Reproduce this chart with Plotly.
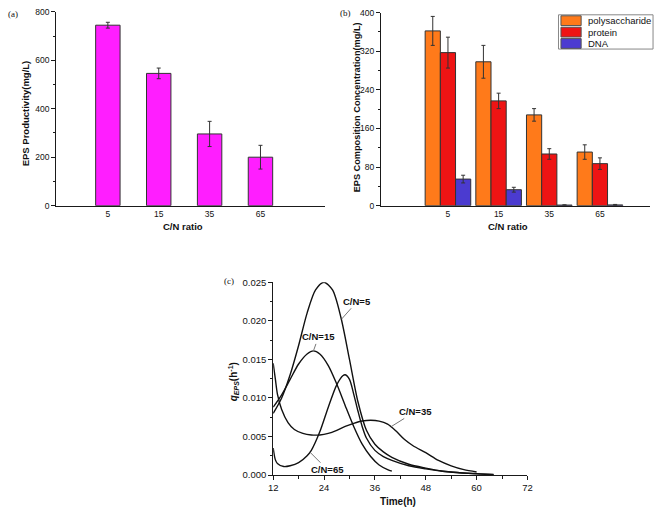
import plotly.graph_objects as go

W, H = 661, 514

# ---------------- data ----------------
cn_labels = ["5", "15", "35", "65"]
cn_pos = [1, 2, 3, 4]

eps_prod = [745, 546, 296, 200]
eps_prod_err = [12, 22, 52, 49]

poly = [362, 298, 188, 111]
poly_err = [30, 34, 13, 15]
protein = [317, 217, 107, 87]
protein_err = [32, 16, 11, 12]
dna = [55, 33, 1.2, 1.5]
dna_err = [8, 5, 0.5, 1]

comp_names = ["polysaccharide", "protein", "DNA"]
comp_colors = ["#FF7A1A", "#EE1414", "#4B3BD0"]

t_cn5 = [12, 14, 16, 18, 20, 22, 24, 26, 28, 30, 32, 34, 36, 38, 40, 44, 48, 52, 56, 60, 64]
q_cn5 = [0.0080, 0.0100, 0.0130, 0.0168, 0.0210, 0.0240, 0.0250, 0.0240, 0.0204, 0.0150,
         0.0095, 0.0058, 0.0040, 0.0030, 0.0023, 0.0014, 0.0009, 0.0005, 0.0003, 0.00015, 0.00005]

t_cn15 = [12, 14, 16, 18, 20, 21.5, 23, 25, 27, 29, 31, 33, 35, 37, 39, 40]
q_cn15 = [0.0088, 0.0104, 0.0124, 0.0144, 0.0157, 0.0161, 0.0157, 0.0142, 0.0118, 0.0090,
          0.0063, 0.0040, 0.0024, 0.0013, 0.0007, 0.0005]

t_cn35 = [12, 12.5, 13, 14, 15.5, 17, 19, 21, 23, 25, 27, 29, 31, 33, 35, 37, 39, 41, 43, 45,
          48, 51, 54, 57, 60]
q_cn35 = [0.0145, 0.0125, 0.0105, 0.0085, 0.0068, 0.0059, 0.0054, 0.0052, 0.0052, 0.0054,
          0.0058, 0.0063, 0.0067, 0.0070, 0.0071, 0.0070, 0.0066, 0.0057, 0.0046, 0.0038,
          0.0029, 0.0019, 0.0012, 0.0007, 0.0004]

t_cn65 = [12, 12.5, 13, 14.5, 16, 18, 20, 21, 23, 25, 27, 28.5, 29, 30, 31, 32, 33, 34, 36,
          38, 40, 44, 48, 52, 56, 60, 64]
q_cn65 = [0.0035, 0.0020, 0.0015, 0.0011, 0.0012, 0.0016, 0.0025, 0.0032, 0.0056, 0.0088,
          0.0117, 0.0129, 0.0130, 0.0124, 0.0105, 0.0083, 0.0063, 0.0048, 0.0032, 0.0024,
          0.0019, 0.0012, 0.0008, 0.0005, 0.0003, 0.00018, 0.00008]

time_ticks = [12, 24, 36, 48, 60, 72]

# ---------------- helpers ----------------
def px_x(p):
    return p / W

def px_y(p):
    return 1 - p / H

FONT = "Liberation Sans, Arial, sans-serif"
SERIF = "Liberation Serif, Times New Roman, serif"
AX = "#1a1a1a"

fig = go.Figure()

# (a) EPS productivity
fig.add_trace(go.Bar(
    x=cn_pos, y=eps_prod, width=0.48,
    marker=dict(color="#FF1EFF", line=dict(color="#333333", width=1)),
    error_y=dict(type="data", array=eps_prod_err, color="#333333", thickness=1, width=2),
    xaxis="x", yaxis="y", showlegend=False,
))

# (b) composition
comp_vals = [poly, protein, dna]
comp_errs = [poly_err, protein_err, dna_err]
offsets = [-0.45, -0.15, 0.15]
for name, col, vals, errs, off in zip(comp_names, comp_colors, comp_vals, comp_errs, offsets):
    fig.add_trace(go.Bar(
        x=cn_pos, y=vals, width=0.3, offset=off, name=name,
        marker=dict(color=col, line=dict(color="#333333", width=1)),
        error_y=dict(type="data", array=errs, color="#333333", thickness=1, width=2),
        xaxis="x2", yaxis="y2", showlegend=False,
    ))

# (c) specific EPS production rate
for t, q in [(t_cn5, q_cn5), (t_cn15, q_cn15), (t_cn35, q_cn35), (t_cn65, q_cn65)]:
    fig.add_trace(go.Scatter(
        x=t, y=q, mode="lines", line=dict(color="#111111", width=1.4, shape="spline", smoothing=0.8),
        xaxis="x3", yaxis="y3", showlegend=False,
    ))

tickfont_ab = dict(family=FONT, size=8.5, color="#111")
tickfont_c = dict(family=FONT, size=9.5, color="#111")

common_y = dict(showline=True, linecolor=AX, linewidth=1, ticks="outside", ticklen=4,
                tickcolor=AX, showgrid=False, zeroline=False)

fig.update_layout(
    width=W, height=H, margin=dict(l=0, r=0, t=0, b=0),
    paper_bgcolor="white", plot_bgcolor="white", barmode="overlay",
    xaxis=dict(domain=[px_x(52), px_x(325)], range=[-0.015, 5.27], anchor="y",
               tickvals=cn_pos, ticktext=cn_labels, ticks="", showline=True, linecolor=AX,
               showgrid=False, zeroline=False, tickfont=tickfont_ab),
    yaxis=dict(domain=[px_y(204), px_y(6)], range=[0, 800], dtick=200, anchor="x",
               minor=dict(dtick=100, ticklen=2, tickcolor=AX, ticks="outside"),
               tickfont=tickfont_ab, **common_y),
    xaxis2=dict(domain=[px_x(381.7), px_x(655)], range=[-0.323, 4.99], anchor="y2",
                tickvals=cn_pos, ticktext=cn_labels, ticks="", showline=True, linecolor=AX,
                showgrid=False, zeroline=False, tickfont=tickfont_ab),
    yaxis2=dict(domain=[px_y(204), px_y(6.7)], range=[0, 400], dtick=80, anchor="x2",
                minor=dict(dtick=40, ticklen=2, tickcolor=AX, ticks="outside"),
                tickfont=tickfont_ab, **common_y),
    xaxis3=dict(domain=[px_x(272.3), px_x(530.5)], range=[12, 72], anchor="y3",
                tickvals=time_ticks, showline=True, linecolor=AX, ticks="outside", ticklen=4,
                tickcolor=AX, showgrid=False, zeroline=False, tickfont=tickfont_c,
                minor=dict(dtick=6, ticklen=3, tickcolor=AX, ticks="outside")),
    yaxis3=dict(domain=[px_y(479.3), px_y(282.3)], range=[0, 0.025], dtick=0.005, anchor="x3",
                tickformat=".3f", minor=dict(dtick=0.0025, ticklen=2, tickcolor=AX, ticks="outside"),
                tickfont=tickfont_c, **common_y),
)

ann = []
def txt(x, y, s, size=9.5, angle=0, family=FONT):
    ann.append(dict(x=px_x(x), y=px_y(y), xref="paper", yref="paper", text=s, showarrow=False,
                    textangle=angle, xanchor="center", yanchor="middle",
                    font=dict(family=family, size=size, color="#111")))

txt(21, 110, "<b>EPS Productivity(mg/L)</b>", angle=-90)
txt(357, 104, "<b>EPS Composition Concentration(mg/L)</b>", size=9.2, angle=-90)
txt(181, 225, "<b>C/N ratio</b>")
txt(511, 225, "<b>C/N ratio</b>")
txt(399, 506, "<b>Time(h)</b>", size=10)
txt(232, 384, "<b><i>q</i><sub><i>EPS</i></sub>(h<sup>-1</sup>)</b>", size=10, angle=-90)
txt(8, 8, "(a)", size=9, family=SERIF)
txt(346, 7, "(b)", size=9, family=SERIF)
txt(227, 281, "(c)", size=9, family=SERIF)

# curve labels with leader lines
curve_labels = [("C/N=5", 28.1, 0.0202, 16, -18),
                ("C/N=15", 21.5, 0.0161, 5, -14),
                ("C/N=35", 39.9, 0.0063, 24, -15),
                ("C/N=65", 20.8, 0.0029, 17, 17)]
for s, x, y, axp, ayp in curve_labels:
    ann.append(dict(x=x, y=y, xref="x3", yref="y3", text="<b>%s</b>" % s, showarrow=True,
                    arrowhead=0, arrowwidth=1, arrowcolor="#777777", ax=axp, ay=ayp,
                    standoff=0, font=dict(family=FONT, size=9.5, color="#111")))

# legend for panel (b)
shapes = [dict(type="rect", xref="paper", yref="paper", x0=px_x(562), x1=px_x(658),
               y0=px_y(44), y1=px_y(9), line=dict(color="#888888", width=1), fillcolor="white")]
rows = [(10, 20), (21.7, 31.7), (33.3, 43.3)]
for (r0, r1), name, col in zip(rows, comp_names, comp_colors):
    shapes.append(dict(type="rect", xref="paper", yref="paper", x0=px_x(564.5), x1=px_x(585),
                       y0=px_y(r1), y1=px_y(r0), line=dict(color="#555555", width=1), fillcolor=col))
    ann.append(dict(x=px_x(590), y=px_y((r0 + r1) / 2), xref="paper", yref="paper", text=name,
                    showarrow=False, xanchor="left", yanchor="middle",
                    font=dict(family=FONT, size=9.5, color="#111")))

fig.update_layout(annotations=ann, shapes=shapes)
fig.write_html("out.html", config={"displayModeBar": False},
               post_script="document.body.style.margin='0';document.body.style.overflow='hidden';")
